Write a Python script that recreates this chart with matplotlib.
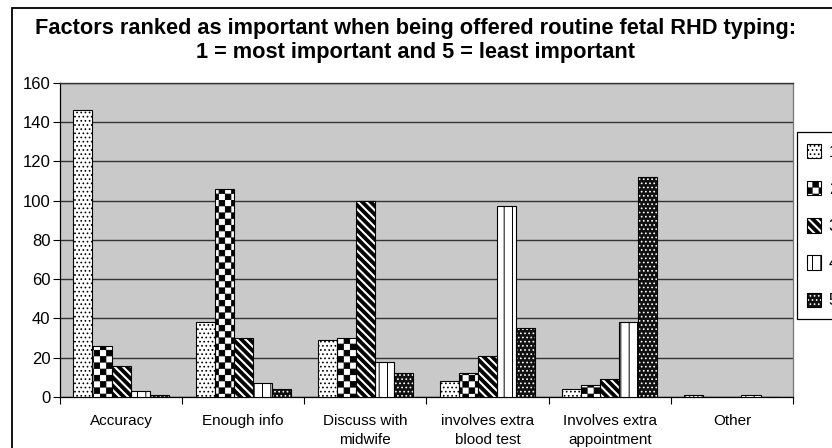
import numpy as np
import matplotlib
matplotlib.use("Agg")
import matplotlib.pyplot as plt
import matplotlib.hatch as mhatch
from matplotlib.path import Path
from matplotlib.patches import Rectangle, Patch
from matplotlib.legend_handler import HandlerBase

# ---------------- data ----------------
categories = ["Accuracy", "Enough info", "Discuss with\nmidwife",
              "involves extra\nblood test", "Involves extra\nappointment", "Other"]
series_labels = ["1", "2", "3", "4", "5"]
rank1 = [146, 38, 29, 8, 4, 1]
rank2 = [26, 106, 30, 12, 6, 0]
rank3 = [16, 30, 100, 21, 9, 0]
rank4 = [3, 7, 18, 97, 38, 1]
rank5 = [1, 4, 12, 35, 112, 0]
yticks = [0, 20, 40, 60, 80, 100, 120, 140, 160]

# ---------------- custom hatch patterns ----------------
plt.rcParams['hatch.linewidth'] = 0.7


class CheckerHatch(mhatch.HatchPatternBase):
    """filled checkerboard, triggered by 'O'"""
    def __init__(self, hatch, density):
        self.n = hatch.count('O') * 8
        self.num_vertices = (self.n * self.n // 2) * 5 if self.n else 0

    def set_vertices_and_codes(self, vertices, codes):
        n = self.n
        s = 1.0 / n
        d = 0.004
        k = 0
        for i in range(n):
            for j in range(n):
                if (i + j) % 2 == 0:
                    x0, y0 = i * s + d, j * s + d
                    x1, y1 = (i + 1) * s - d, (j + 1) * s - d
                    vertices[k:k + 5] = [(x0, y0), (x1, y0), (x1, y1), (x0, y1), (x0, y0)]
                    codes[k] = Path.MOVETO
                    codes[k + 1:k + 4] = Path.LINETO
                    codes[k + 4] = Path.CLOSEPOLY
                    k += 5


class StripeHatch(mhatch.HatchPatternBase):
    """thick '\\' stripes, triggered by 'o'"""
    def __init__(self, hatch, density):
        self.n = hatch.count('o') * 6
        self.num_vertices = (2 * self.n + 2) * 5 if self.n else 0

    def set_vertices_and_codes(self, vertices, codes):
        n = self.n
        p = 1.0 / n
        w = p * 0.48
        k = 0
        for m in range(-1, 2 * n + 1):
            c = m * p
            vertices[k:k + 5] = [(-1, c + 1), (2, c - 2), (2, c + w - 2),
                                 (-1, c + w + 1), (-1, c + 1)]
            codes[k] = Path.MOVETO
            codes[k + 1:k + 4] = Path.LINETO
            codes[k + 4] = Path.CLOSEPOLY
            k += 5


new_types = []
for t in mhatch._hatch_types:
    if t is mhatch.LargeCircles:
        new_types.append(CheckerHatch)
    elif t is mhatch.SmallCircles:
        new_types.append(StripeHatch)
    else:
        new_types.append(t)
mhatch._hatch_types[:] = new_types

# style per series: (facecolor, hatch, hatchcolor)
styles = [
    ("white", "....", "black"),
    ("white", "OO", "black"),
    ("white", "oo", "black"),
    ("white", "||", "black"),
    ("#111111", "....", "white"),
]


class SquareHandler(HandlerBase):
    """draws a small square swatch (layered patches) centred in a taller row"""
    def create_artists(self, legend, orig_handle, xdescent, ydescent,
                       width, height, fontsize, trans):
        s = width
        x0 = -xdescent
        y0 = -ydescent + (height - s) / 2
        arts = []
        for p in orig_handle:
            r = Rectangle((x0, y0), s, s)
            r.update_from(p)
            r.set_transform(trans)
            arts.append(r)
        return arts


# ---------------- figure ----------------
W, H = 832, 448
fig = plt.figure(figsize=(W / 100, H / 100), dpi=100)
fig.patch.set_facecolor("white")

ax = fig.add_axes([60 / W, 1 - 397 / H, 733 / W, (397 - 82.7) / H])
ax.set_facecolor("#c9c9c9")

series = [rank1, rank2, rank3, rank4, rank5]
x = np.arange(len(categories))
bw = 0.156
for i, vals in enumerate(series):
    fc, hatch, hc = styles[i]
    pos = x + (i - 2) * bw
    ax.bar(pos, vals, width=bw, color=fc, edgecolor=hc, hatch=hatch,
           linewidth=0, zorder=3)
    ax.bar(pos, vals, width=bw, fill=False, edgecolor="black",
           linewidth=0.8, zorder=4)

ax.set_xlim(-0.5, len(categories) - 0.5)
ax.set_ylim(0, 160)
ax.set_yticks(yticks)
ax.set_yticklabels([str(v) for v in yticks], fontsize=12, family="Liberation Sans")
ax.yaxis.grid(True, color="#333333", linewidth=1.0, zorder=1)
ax.set_axisbelow(True)
ax.set_xticks(x)
ax.set_xticklabels(categories, fontsize=11, family="Liberation Sans", linespacing=1.5)
ax.set_xticks(np.arange(-0.5, len(categories)), minor=True)
ax.tick_params(axis="x", which="major", length=0, pad=12)
ax.tick_params(axis="x", which="minor", length=5, width=0.8, direction="out")
ax.tick_params(axis="y", length=5, width=0.8, direction="out", pad=2)
for s in ["left", "bottom"]:
    ax.spines[s].set_color("black")
    ax.spines[s].set_linewidth(0.9)
ax.spines["top"].set_color("#333333")
ax.spines["top"].set_linewidth(1.0)
ax.spines["right"].set_color("#777777")
ax.spines["right"].set_linewidth(0.9)

# title
fig.text(0.5, 1 - 40.5 / H,
         "Factors ranked as important when being offered routine fetal RHD typing:\n"
         "1 = most important and 5 = least important",
         ha="center", va="center", fontsize=15.7, fontweight="bold",
         family="Liberation Sans", linespacing=1.15)

# outer chart frame
fig.patches.append(Rectangle((12 / W, -0.1), 1.2, 1.1 - 8 / H, transform=fig.transFigure,
                             fill=False, edgecolor="black", linewidth=1.3))

# legend (extends past the right edge, as in the original)
handles = []
for fc, hatch, hc in styles:
    p1 = Patch(facecolor=fc, edgecolor=hc, hatch=hatch, linewidth=0)
    p2 = Patch(fill=False, edgecolor="black", linewidth=0.8)
    handles.append((p1, p2))
leg = fig.legend(handles, series_labels, loc="upper left",
                 bbox_to_anchor=(797 / W, 1 - 132 / H), bbox_transform=fig.transFigure,
                 borderaxespad=0, fancybox=False, framealpha=1, edgecolor="black",
                 prop={"family": "Liberation Sans", "size": 12},
                 handler_map={tuple: SquareHandler()},
                 handlelength=0.85, handleheight=1.3, handletextpad=0.45,
                 labelspacing=1.14, borderpad=0.6)
leg.get_frame().set_linewidth(0.9)

fig.savefig("out.png", dpi=100)
